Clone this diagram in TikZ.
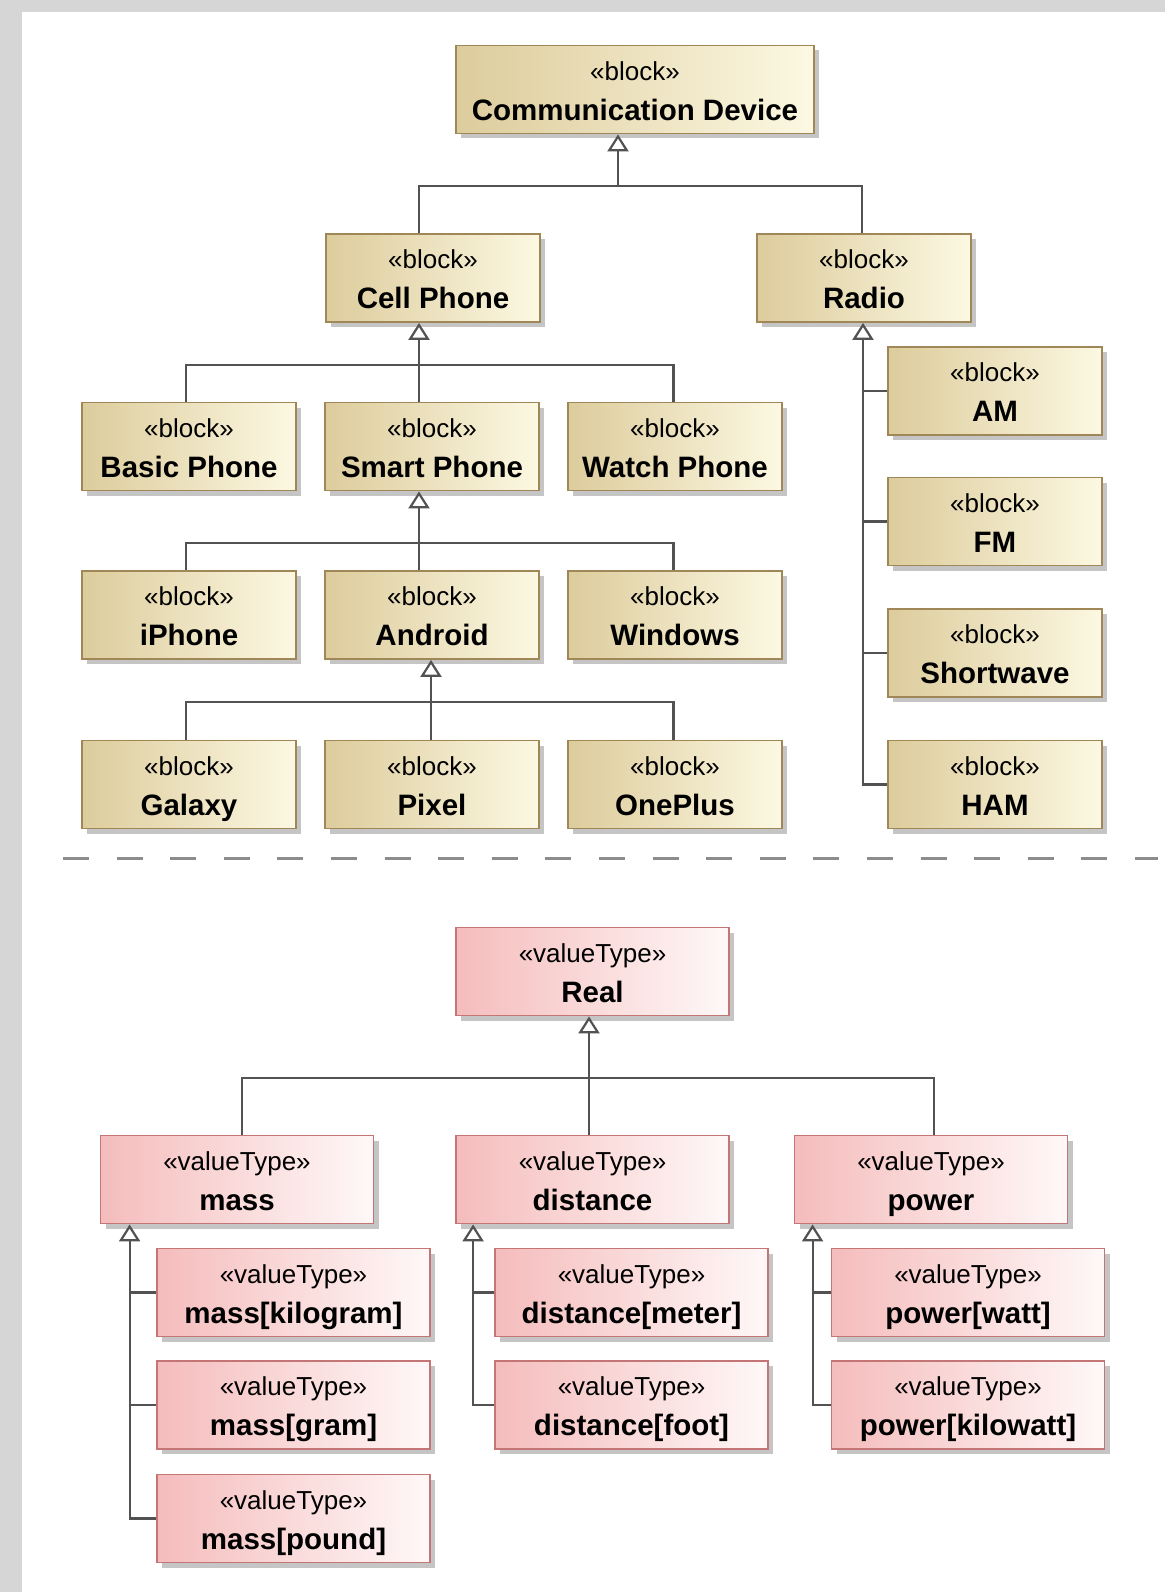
\documentclass[tikz,border=0pt]{standalone}
\usepackage{fontspec}
\setmainfont{Liberation Sans}
\usetikzlibrary{arrows.meta,shadows,calc}

\definecolor{blkdark}{RGB}{221,204,156}
\definecolor{blklight}{RGB}{252,248,226}
\definecolor{blkline}{RGB}{160,135,88}
\definecolor{vtdark}{RGB}{245,188,188}
\definecolor{vtlight}{RGB}{255,248,248}
\definecolor{vtline}{RGB}{196,118,118}
\definecolor{conn}{RGB}{82,82,82}
\definecolor{strip}{RGB}{214,214,214}

\newcommand{\blocktext}[1]{\rule{0pt}{28pt}«block»\\[2pt]{\fontsize{29.5}{38}\selectfont\bfseries #1\vphantom{[]}}}
\newcommand{\vtypetext}[1]{\rule{0pt}{28pt}«valueType»\\[2pt]{\fontsize{29.5}{38}\selectfont\bfseries #1\vphantom{[]}}}

\begin{document}
\begin{tikzpicture}[x=1pt,y=-1pt,
    box/.style={rectangle,inner sep=0,minimum height=88pt,align=center,
      font=\fontsize{26}{38}\selectfont,
      drop shadow={shadow xshift=5pt,shadow yshift=-5pt,fill=black!45,opacity=.5}},
    blk/.style={box,draw=blkline,line width=1.8pt,left color=blkdark,right color=blklight,minimum width=214pt},
    vt/.style={box,draw=vtline,line width=1.8pt,left color=vtdark,right color=vtlight,minimum width=273pt},
    line/.style={draw=conn,line width=2.2pt},
    gen/.style={line,-{Triangle[open,length=17pt,width=21pt]}},
    sep/.style={draw=black!45,line width=3pt,dash pattern=on 26pt off 27.6pt}]
  \useasboundingbox (0,0) rectangle (1165,1592);
  \fill[white] (0,0) rectangle (1165,1592);
  \fill[strip] (0,0) rectangle (1165,12);
  \fill[strip] (0,0) rectangle (22,1592);

  \node[blk,minimum width=358pt] (comm) at (635,89.5) {\blocktext{Communication Device}};
  \node[blk] (cell) at (433,278) {\blocktext{Cell Phone}};
  \node[blk] (radio) at (864,278) {\blocktext{Radio}};
  \node[blk] (basic) at (189,446.5) {\blocktext{Basic Phone}};
  \node[blk] (smart) at (432,446.5) {\blocktext{Smart Phone}};
  \node[blk] (watch) at (675,446.5) {\blocktext{Watch Phone}};
  \node[blk] (iphone) at (189,615) {\blocktext{iPhone}};
  \node[blk] (android) at (432,615) {\blocktext{Android}};
  \node[blk] (windows) at (675,615) {\blocktext{Windows}};
  \node[blk] (galaxy) at (189,784.5) {\blocktext{Galaxy}};
  \node[blk] (pixel) at (432,784.5) {\blocktext{Pixel}};
  \node[blk] (oneplus) at (675,784.5) {\blocktext{OnePlus}};
  \node[blk] (am) at (995,391) {\blocktext{AM}};
  \node[blk] (fm) at (995,521.5) {\blocktext{FM}};
  \node[blk] (sw) at (995,653) {\blocktext{Shortwave}};
  \node[blk] (ham) at (995,784.5) {\blocktext{HAM}};

  \coordinate (top) at (618,187);
  \draw[gen] (top) -- (top |- comm.south);
  \draw[line] ([xshift=-14pt]cell.north) -- ++(0,-47) -| ([xshift=-2pt]radio.north);
  \draw[line] ([xshift=-3pt]basic.north) -- ++(0,-37) -| ([xshift=-1.5pt]watch.north);
  \draw[gen] ([xshift=-13pt]smart.north) -- ([xshift=-14pt]cell.south);
  \draw[line] ([xshift=-3pt]iphone.north) -- ++(0,-27) -| ([xshift=-1.5pt]windows.north);
  \draw[gen] ([xshift=-13pt]android.north) -- ([xshift=-13pt]smart.south);
  \draw[line] ([xshift=-3pt]galaxy.north) -- ++(0,-38) -| ([xshift=-1.5pt]oneplus.north);
  \draw[gen] ([xshift=-1pt]pixel.north) -- ([xshift=-1pt]android.south);
  \coordinate (rl) at ([xshift=-1pt]radio.south);
  \draw[gen] (ham.west) -| (rl);
  \foreach \n in {am,fm,sw} \draw[line] (\n.west) -- (\n.west -| rl);

  % separator
  \coordinate (sepl) at (63,858);
  \coordinate (sepr) at (1158,858);
  \draw[sep] (sepl) -- (sepr);

  \node[vt] (real) at (592.5,971.5) {\vtypetext{Real}};
  \node[vt] (mass) at (237,1179.5) {\vtypetext{mass}};
  \node[vt] (dist) at (592.5,1179.5) {\vtypetext{distance}};
  \node[vt] (power) at (931,1179.5) {\vtypetext{power}};
  \node[vt] (kg) at (293.5,1292.5) {\vtypetext{mass[kilogram]}};
  \node[vt] (gram) at (293.5,1405) {\vtypetext{mass[gram]}};
  \node[vt] (pound) at (293.5,1518.5) {\vtypetext{mass[pound]}};
  \node[vt] (meter) at (631.5,1292.5) {\vtypetext{distance[meter]}};
  \node[vt] (foot) at (631.5,1405) {\vtypetext{distance[foot]}};
  \node[vt] (watt) at (968,1292.5) {\vtypetext{power[watt]}};
  \node[vt] (kw) at (968,1405) {\vtypetext{power[kilowatt]}};

  \draw[line] ([xshift=5pt]mass.north) -- ++(0,-57) -| ([xshift=3pt]power.north);
  \draw[gen] ([xshift=-3.5pt]dist.north) -- ([xshift=-3.5pt]real.south);
  \coordinate (ml) at ([xshift=30pt]mass.south west);
  \draw[gen] (pound.west) -| (ml);
  \foreach \n in {kg,gram} \draw[line] (\n.west) -- (\n.west -| ml);
  \coordinate (dl) at ([xshift=18pt]dist.south west);
  \draw[gen] (foot.west) -| (dl);
  \draw[line] (meter.west) -- (meter.west -| dl);
  \coordinate (pl) at ([xshift=19pt]power.south west);
  \draw[gen] (kw.west) -| (pl);
  \draw[line] (watt.west) -- (watt.west -| pl);
\end{tikzpicture}
\end{document}
